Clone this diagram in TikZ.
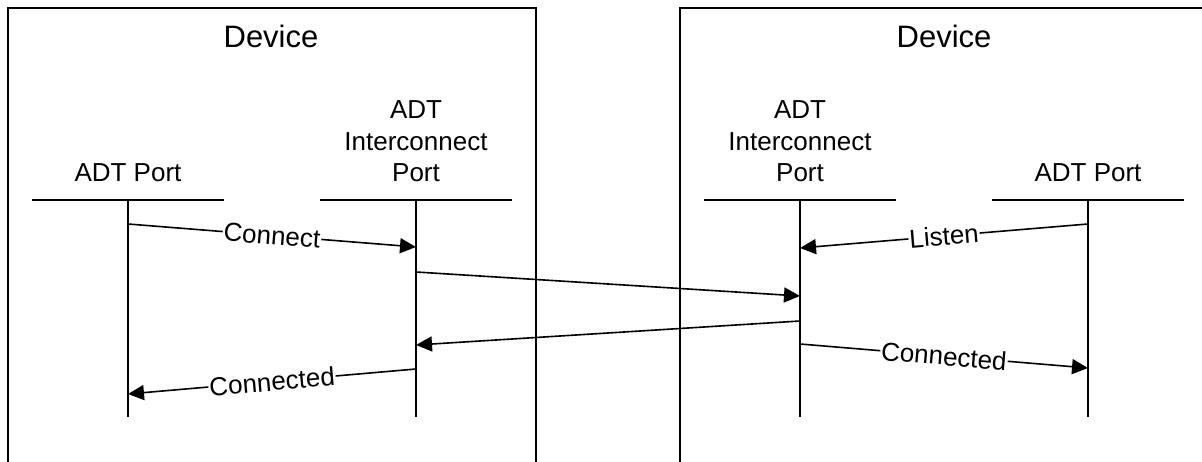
\documentclass[tikz,border=0pt]{standalone}
\usepackage{fontspec}
\setmainfont{Liberation Sans}
\usetikzlibrary{arrows.meta}

\tikzset{
  devbox/.style={line width=2pt},
  lifeline/.style={line width=2pt},
  headline/.style={line width=1.5pt},
  msg/.style={line width=1.6pt,-{Triangle[length=16pt,width=15pt]}},
  msglabel/.style={fill=white,inner sep=1pt,sloped,font=\fontsize{26}{31.5}\selectfont},
  porthead/.style={align=center,anchor=base,inner sep=0pt,font=\fontsize{26}{31.5}\selectfont},
  devtitle/.style={anchor=base,inner sep=0pt,font=\fontsize{31}{36}\selectfont},
}

\begin{document}
\begin{tikzpicture}[x=1pt,y=-1pt]

\useasboundingbox (0,0) rectangle (1202,462);
\clip (0,0) rectangle (1202,462);

% device frames
\draw[devbox] (7.5,480) -- (7.5,8.5) -- (535.7,8.5) -- (535.7,480);
\draw[devbox] (680,480) -- (680,8.5) -- (1208,8.5) -- (1208,480);
\node[devtitle] (devA) at (271,48) {Device};
\node[devtitle] (devB) at (944,48) {Device};

% port heads
\node[porthead] (portA) at (128,182) {ADT Port};
\node[porthead] (icA) at (416,182) {ADT\\Interconnect\\Port};
\node[porthead] (icB) at (800,182) {ADT\\Interconnect\\Port};
\node[porthead] (portB) at (1088,182) {ADT Port};

% lifelines
\foreach \name/\xx in {pa/128,ia/416,ib/800,pb/1088} {
  \coordinate (\name) at (\xx,200);
  \draw[headline] ([xshift=-96pt]\name) -- ([xshift=96pt]\name);
  \draw[lifeline] (\name) -- ++(0,217);
}

% message ends
\coordinate (pa1) at (128,224);
\coordinate (ia1) at (416,247);
\coordinate (ia2) at (416,272);
\coordinate (ib2) at (800,296);
\coordinate (ib3) at (800,321);
\coordinate (ia3) at (416,345);
\coordinate (ia4) at (416,369);
\coordinate (pa4) at (128,394);
\coordinate (pb5) at (1088,224);
\coordinate (ib5) at (800,248);
\coordinate (ib6) at (800,344);
\coordinate (pb6) at (1088,368);

% messages
\draw[msg] (pa1) -- node[msglabel] {Connect} (ia1);
\draw[msg] (ia2) -- (ib2);
\draw[msg] (ib3) -- (ia3);
\draw[msg] (ia4) -- node[msglabel] {Connected} (pa4);
\draw[msg] (pb5) -- node[msglabel] {Listen} (ib5);
\draw[msg] (ib6) -- node[msglabel] {Connected} (pb6);

\end{tikzpicture}
\end{document}
